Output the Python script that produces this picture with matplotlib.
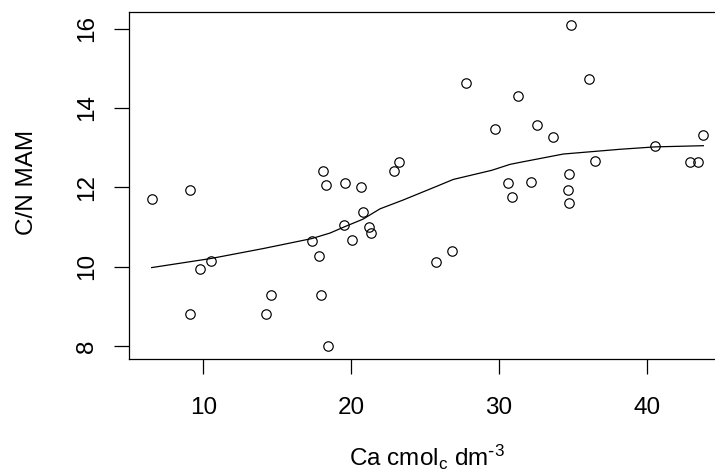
import matplotlib
matplotlib.use('Agg')
import matplotlib.pyplot as plt

plt.rcParams['font.family'] = ['Liberation Sans', 'DejaVu Sans']
plt.rcParams['mathtext.default'] = 'regular'

# Ca (cmolc dm-3) vs C/N ratio
ca = [6.51, 9.12, 9.12, 9.78, 10.54, 14.26, 14.60, 17.33, 17.84, 17.93,
      18.07, 18.27, 18.45, 19.49, 19.60, 20.05, 20.68, 20.82, 21.23, 21.36,
      22.89, 23.21, 25.71, 26.82, 27.78, 29.74, 30.62, 30.85, 31.30, 32.14,
      32.58, 33.67, 34.86, 34.75, 34.68, 34.75, 36.06, 36.51, 40.54, 42.93,
      43.47, 43.81]
cn = [11.70, 11.93, 8.81, 9.95, 10.15, 8.81, 9.29, 10.64, 10.27, 9.29,
      12.41, 12.06, 8.00, 11.06, 12.10, 10.67, 12.01, 11.38, 11.01, 10.84,
      12.41, 12.63, 10.11, 10.39, 14.62, 13.48, 12.10, 11.75, 14.30, 12.14,
      13.56, 13.28, 16.09, 12.34, 11.93, 11.61, 14.73, 12.67, 13.04, 12.63,
      12.63, 13.31]

# smoothed curve
smooth_x = [6.51, 10.54, 14.06, 17.33, 18.57, 19.5, 20.8, 21.95, 23.5,
            25.8, 26.9, 29.5, 30.74, 31.41, 34.34, 38.18, 40.54, 43.81]
smooth_y = [9.98, 10.21, 10.46, 10.71, 10.85, 11.0, 11.2, 11.46, 11.68,
            12.03, 12.2, 12.43, 12.58, 12.63, 12.84, 12.96, 13.02, 13.05]

xticks = [10, 20, 30, 40]
yticks = [8, 10, 12, 14, 16]

W, H = 715, 473
fig = plt.figure(figsize=(W / 100, H / 100), dpi=100)
# plot box runs a little past the right edge of the image, as in the original
ax = fig.add_axes([129.3 / W, (H - 359.3) / H,
                   (725.4 - 129.3) / W, (359.3 - 12.3) / H])

ax.plot(ca, cn, linestyle='none', marker='o', markersize=6.8,
        markerfacecolor='none', markeredgecolor='black', markeredgewidth=0.85)
ax.plot(smooth_x, smooth_y, color='black', linewidth=0.9)

ax.set_xlim(5.0, 45.3)
ax.set_ylim(7.67, 16.41)
ax.set_xticks(xticks)
ax.set_yticks(yticks)

for s in ax.spines.values():
    s.set_linewidth(0.9)
    s.set_color('black')

ax.tick_params(axis='both', length=10.5, width=0.9, labelsize=17.5,
               colors='black')
ax.tick_params(axis='x', pad=16.5)
ax.tick_params(axis='y', pad=11.8, labelrotation=90)
for lab in ax.get_yticklabels():
    lab.set_verticalalignment('center')

fig.text(33 / W, 1 - 182 / H, 'C/N MAM', rotation=90, rotation_mode='anchor',
         ha='center', va='baseline', fontsize=17.5)
fig.text(427.4 / W, (H - 465.5) / H, r'Ca cmol$_c$ dm$^{\text{-}3}$',
         ha='center', va='baseline', fontsize=17.5)

fig.savefig('out.png', dpi=100)
